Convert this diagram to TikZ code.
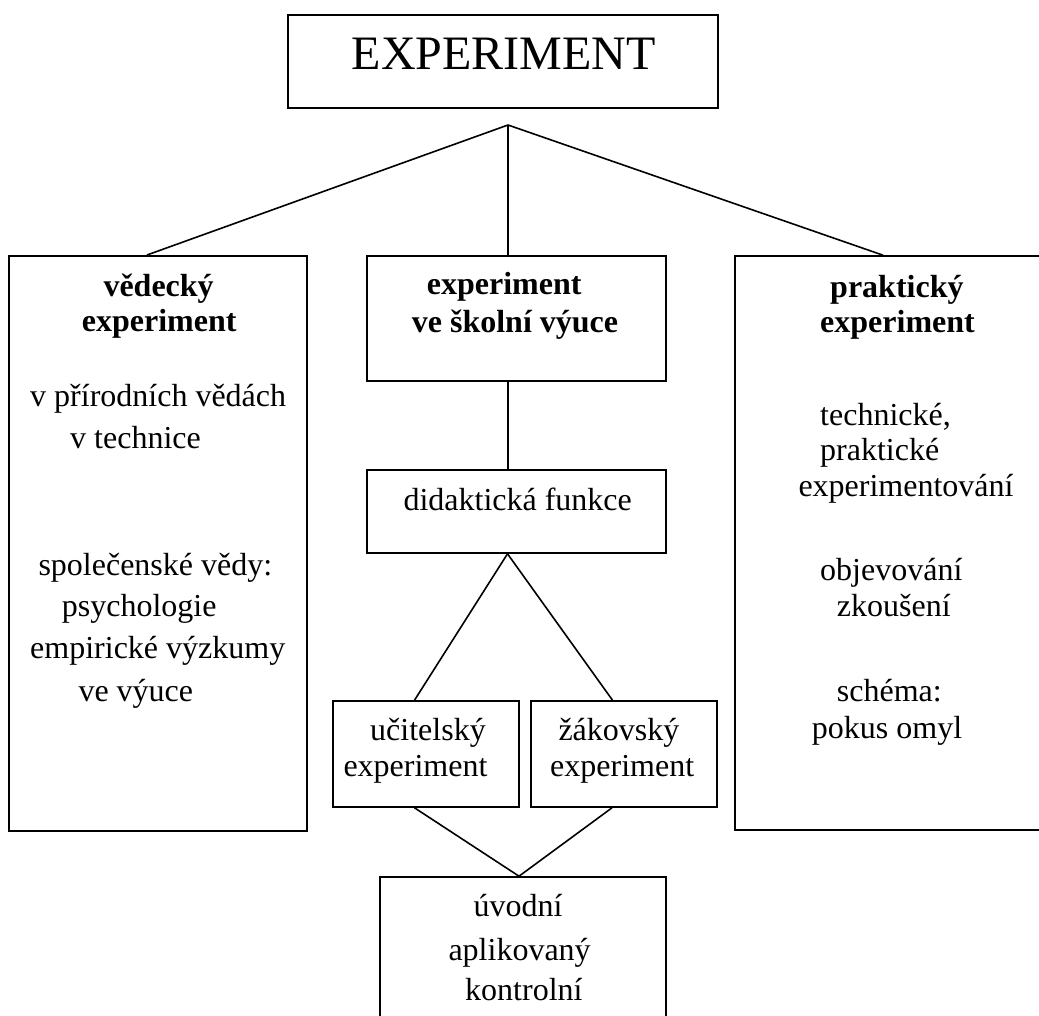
\documentclass[tikz,border=0pt]{standalone}
\usepackage{fontspec}
\setmainfont{Liberation Serif}
\usetikzlibrary{calc}

\tikzset{
  box/.style={draw=black,line width=1.6pt,rectangle,inner sep=0pt},
  link/.style={black,line width=1.6pt},
  txt/.style={anchor=base west,inner sep=0pt,font=\fontsize{32}{38}\selectfont},
  hd/.style={txt,font=\fontsize{32}{38}\selectfont\bfseries},
}

\begin{document}
\begin{tikzpicture}[x=1pt,y=-1pt]
            \useasboundingbox (0,0) rectangle (1039,1016);

            % boxes
            \node[box,minimum width=430pt,minimum height=93pt] (top) at (503,61.5){};
            \node[box,minimum width=298pt,minimum height=575pt] (lbox) at (158,543.3){};
            \node[box,minimum width=299pt,minimum height=125pt] (mbox) at (516.5,318.5){};
            \node[box,minimum width=325pt,minimum height=574pt] (rbox) at (897.5,543){};
            \node[box,minimum width=299pt,minimum height=83pt] (dbox) at (516.5,511.5){};
            \node[box,minimum width=186pt,minimum height=106pt] (ubox) at (426,754){};
            \node[box,minimum width=186pt,minimum height=106pt] (zbox) at (624,754){};
            \node[box,minimum width=286pt,minimum height=163pt] (obox) at (523,958.5){};

            % connectors
            \coordinate (apex) at (508,125);
            \draw[link](apex) -- (147,0 |- lbox.north);
            \draw[link](apex) -- (508,0 |- mbox.north);
            \draw[link](apex) -- (883,0 |- rbox.north);
            \draw[link](508,0 |- mbox.south) -- (508,0 |- dbox.north);
            \draw[link](507.5,0 |- dbox.south) -- (414.5,0 |- ubox.north);
            \draw[link](507.5,0 |- dbox.south) -- (612.5,0 |- zbox.north);
            \draw[link](414.5,0 |- ubox.south) -- (519,0 |- obox.north);
            \draw[link](612,0 |- zbox.south) -- (519,0 |- obox.north);

            % title
            \node[txt,font=\fontsize{48}{56}\selectfont] (title) at (351.7,70){EXPERIMENT};

            % left box
            \node[hd] (ved1) at (103.3,296.7){vědecký};
            \node[hd] (ved2) at (81.7,331.7){experiment};
            \node[txt] (ved3) at (30,406.7){v přírodních vědách};
            \node[txt] (ved4) at (70,448.3){v technice};
            \node[txt] (ved5) at (38.3,575){společenské vědy:};
            \node[txt] (ved6) at (61.7,616.7){psychologie};
            \node[txt] (ved7) at (30,658.3){empirické výzkumy};
            \node[txt] (ved8) at (78.3,701.7){ve výuce};

            % middle column
            \node[hd] (sko1) at (426.7,295){experiment};
            \node[hd] (sko2) at (411.7,333){ve školní výuce};
            \node[txt] (did) at (403.3,510){didaktická funkce};
            \node[txt] (uci1) at (370,740){učitelský};
            \node[txt] (uci2) at (343.3,776.7){experiment};
            \node[txt] (zak1) at (558.3,740){žákovský};
            \node[txt] (zak2) at (550,776.7){experiment};
            \node[txt] (uvo1) at (473.3,916.7){úvodní};
            \node[txt] (uvo2) at (448.3,960){aplikovaný};
            \node[txt] (uvo3) at (465,1000){kontrolní};

            % right box
            \node[hd] (pra1) at (830,298){praktický};
            \node[hd] (pra2) at (820,333){experiment};
            \node[txt] (pra3) at (820,425){technické,};
            \node[txt] (pra4) at (820,460){praktické};
            \node[txt] (pra5) at (798.3,496.7){experimentování};
            \node[txt] (pra6) at (820,580){objevování};
            \node[txt] (pra7) at (836.7,616.7){zkoušení};
            \node[txt] (pra8) at (836.7,701.7){schéma:};
            \node[txt] (pra9) at (811.7,738.3){pokus omyl};
        \end{tikzpicture}
\end{document}
